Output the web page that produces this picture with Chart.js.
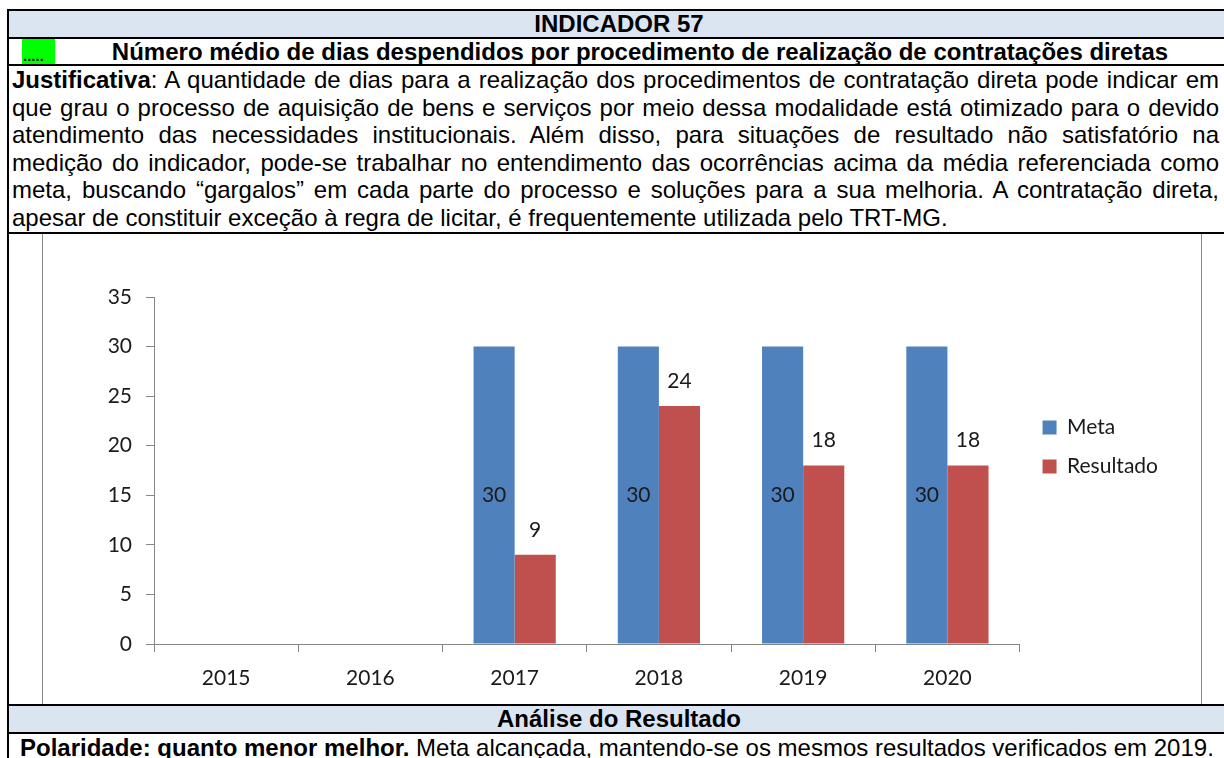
<!DOCTYPE html>
<html>
<head>
<meta charset="utf-8">
<script src="https://cdn.jsdelivr.net/npm/chart.js@4.4.1/dist/chart.umd.min.js"></script>
<style>
html,body{margin:0;padding:0;background:#fff;}
body{width:1224px;height:758px;overflow:hidden;position:relative;font-family:"Liberation Sans",Arial,sans-serif;color:#000;}
.a{position:absolute;}
.hl{position:absolute;left:7px;width:1240px;height:2px;background:#000;}
.band{position:absolute;left:9px;width:1240px;background:#DBE5F1;}
.ctr{position:absolute;text-align:center;font-weight:bold;font-size:24px;white-space:nowrap;}
.jl{height:27.6px;line-height:27.6px;font-size:24px;text-align:justify;text-align-last:justify;}
.jl.last{text-align-last:left;}
</style>
</head>
<body>
<!-- table frame -->
<div class="hl" style="top:9px"></div>
<div class="a" style="left:7px;top:9px;width:2px;height:760px;background:#000"></div>

<div class="band" style="top:11px;height:26px"></div>
<div class="ctr" style="left:9px;width:1220px;top:11px;height:26px;line-height:26px">INDICADOR 57</div>
<div class="hl" style="top:37px"></div>

<div class="a" style="left:22px;top:39px;width:33px;height:25px;background:#00FF00"></div>
<div class="a" style="left:23px;top:47px;font-size:15px;line-height:17px;font-weight:bold">.....</div>
<div class="ctr" style="left:60px;width:1160px;top:39px;height:25px;line-height:25px">Número médio de dias despendidos por procedimento de realização de contratações diretas</div>
<div class="hl" style="top:64px"></div>

<div class="a" style="left:12px;top:66px;width:1207px">
  <div class="jl"><b>Justificativa</b>: A quantidade de dias para a realização dos procedimentos de contratação direta pode indicar em</div>
  <div class="jl">que grau o processo de aquisição de bens e serviços por meio dessa modalidade está otimizado para o devido</div>
  <div class="jl">atendimento das necessidades institucionais. Além disso, para situações de resultado não satisfatório na</div>
  <div class="jl">medição do indicador, pode-se trabalhar no entendimento das ocorrências acima da média referenciada como</div>
  <div class="jl">meta, buscando “gargalos” em cada parte do processo e soluções para a sua melhoria. A contratação direta,</div>
  <div class="jl last">apesar de constituir exceção à regra de licitar, é frequentemente utilizada pelo TRT-MG.</div>
</div>
<div class="hl" style="top:232px"></div>

<div class="a" style="left:42px;top:234px;width:1px;height:470px;background:#888"></div>
<div class="a" style="left:1201px;top:234px;width:1px;height:470px;background:#888"></div>
<div class="a" style="left:43px;top:234px;width:1158px;height:470px">
  <canvas id="c" width="1158" height="470"></canvas>
</div>

<div class="hl" style="top:704px"></div>
<div class="band" style="top:706px;height:26px"></div>
<div class="ctr" style="left:9px;width:1220px;top:706px;height:26px;line-height:26px">Análise do Resultado</div>
<div class="hl" style="top:732px"></div>
<div class="a" style="left:20px;top:734px;font-size:24px;line-height:27.6px;white-space:nowrap"><b>Polaridade: quanto menor melhor.</b> Meta alcançada, mantendo-se os mesmos resultados verificados em 2019.</div>

<script>
const categories = ['2015', '2016', '2017', '2018', '2019', '2020'];
const metaValues = [null, null, 30, 30, 30, 30];
const resultadoValues = [null, null, 9, 24, 18, 18];
const seriesNames = ['Meta', 'Resultado'];
const yTicks = [0, 5, 10, 15, 20, 25, 30, 35];

const chartFont = 'Lato';
const axisGray = '#868686';

const valueLabels = {
  id: 'valueLabels',
  afterDatasetsDraw(chart, args, opts) {
    const ctx = chart.ctx;
    ctx.save();
    ctx.font = '21px ' + chartFont;
    ctx.fillStyle = '#1a1a1a';
    ctx.textAlign = 'center';
    ctx.textBaseline = 'middle';
    chart.data.datasets.forEach((ds, di) => {
      const meta = chart.getDatasetMeta(di);
      const mode = opts.modes[di];
      meta.data.forEach((bar, i) => {
        const v = ds.data[i];
        if (v === null || v === undefined) return;
        const y = mode === 'center' ? (bar.y + bar.base) / 2 : bar.y - opts.offset;
        ctx.fillText(String(v), bar.x, y);
      });
    });
    ctx.restore();
  }
};

const legendShift = {
  id: 'legendShift',
  afterLayout(chart, args, opts) {
    if (chart.legend) { chart.legend.left += opts.dx; chart.legend.right += opts.dx; }
  }
};

new Chart(document.getElementById('c'), {
  type: 'bar',
  data: {
    labels: categories,
    datasets: [
      { label: seriesNames[0], data: metaValues, backgroundColor: '#4F81BD', borderWidth: 0 },
      { label: seriesNames[1], data: resultadoValues, backgroundColor: '#C0504D', borderWidth: 0 }
    ]
  },
  options: {
    responsive: false,
    animation: false,
    events: [],
    categoryPercentage: 0.57,
    barPercentage: 1.0,
    layout: { padding: { top: 63, bottom: 0, left: 0, right: 38 } },
    plugins: {
      tooltip: { enabled: false },
      valueLabels: { modes: ['center', 'top'], offset: 25 },
      legendShift: { dx: 5 },
      legend: {
        position: 'right',
        align: 'start',
        title: { display: true, text: '', font: { size: 10 }, padding: { top: 90, bottom: 0 } },
        labels: {
          boxWidth: 14,
          boxHeight: 14,
          padding: 18,
          color: '#1a1a1a',
          font: { family: chartFont, size: 21 }
        }
      }
    },
    scales: {
      x: {
        grid: { display: true, drawOnChartArea: false, drawTicks: true, tickLength: 8, color: axisGray, offset: true },
        border: { display: true, color: axisGray, width: 1 },
        ticks: { color: '#1a1a1a', font: { family: chartFont, size: 21 }, padding: 14, maxRotation: 0 },
        afterFit(scale) { scale.height = 60; }
      },
      y: {
        min: 0,
        max: 35,
        afterBuildTicks(scale) { scale.ticks = yTicks.map(v => ({ value: v })); },
        grid: { display: true, drawOnChartArea: false, drawTicks: true, tickLength: 8, color: axisGray },
        border: { display: true, color: axisGray, width: 1 },
        ticks: { color: '#1a1a1a', font: { family: chartFont, size: 21 }, padding: 14 },
        afterFit(scale) { scale.width = 111; }
      }
    }
  },
  plugins: [valueLabels, legendShift]
});
</script>
</body>
</html>
